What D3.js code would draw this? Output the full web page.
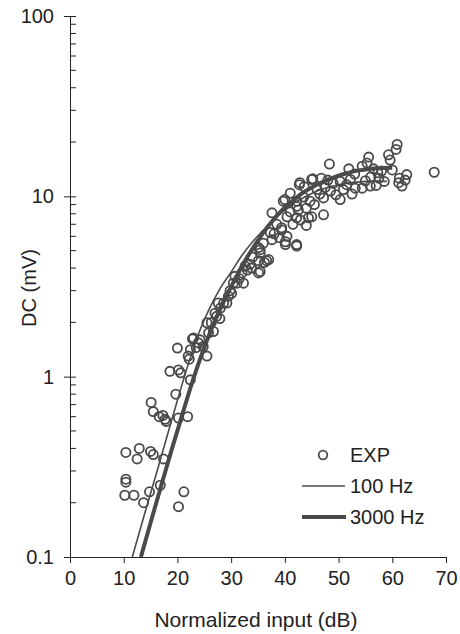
<!DOCTYPE html>
<html><head><meta charset="utf-8">
<script src="https://cdn.jsdelivr.net/npm/d3@7"></script>
<style>body{margin:0;background:#fff}svg{display:block}text{font-family:"Liberation Sans",Arial,sans-serif;fill:#222}</style>
</head><body><svg id="c" width="460" height="634"></svg>
<script>
const xTicks=[0,10,20,30,40,50,60,70];
const yTicks=[0.1,1,10,100];
const yTickLabels=["0.1","1","10","100"];
const expX=[10.4,12.9,12.5,15.0,15.5,17.4,10.4,10.4,10.2,11.9,13.7,14.8,16.8,21.2,20.2,
15.1,15.5,16.6,17.3,17.7,17.9,20.2,21.9,19.7,18.6,20.2,20.6,22.4,20.0,22.0,22.2,22.8,23.9,24.8,25.5,25.8,
22.4,23.0,25.5,26.7,27.3,27.0,27.6,28.6,29.2,30.1,30.4,30.7,31.1,32.0,32.3,32.6,33.5,35.1,36.6,37.0,35.4,35.1,35.4,35.1,35.4,
37.6,37.3,39.4,39.4,40.4,40.1,40.1,42.2,42.2,37.6,40.4,42.2,42.5,42.9,44.4,45.0,47.2,39.7,40.0,42.2,42.2,44.7,
42.8,45.0,42.7,45.2,46.0,47.2,48.5,50.3,50.9,50.3,52.2,53.1,54.4,55.9,51.9,54.4,55.3,55.6,48.3,57.3,57.5,59.6,59.3,60.7,60.9,61.2,61.8,62.4,62.7,67.8,
28.0,29.5,31.5,33.0,34.0,36.0,38.0,38.5,41.0,43.5,44.0,46.5,47.5,49.0,49.5,51.5,53.0,56.5,58.0,58.5,56.0,24.2,23.5,26.3,27.9,29.8,33.8,36.2,41.5,45.5,48.0,52.5,57.0,60.0,61.3,55.0,39.0,41.0,43.6,46.8,44.0];
const expY=[0.38,0.40,0.35,0.385,0.37,0.35,0.27,0.26,0.22,0.22,0.20,0.23,0.25,0.23,0.19,
0.72,0.64,0.60,0.61,0.58,0.565,0.59,0.60,0.80,1.07,1.09,1.05,0.96,1.44,1.30,1.25,1.62,1.54,1.47,1.99,1.75,
1.41,1.64,1.30,1.78,2.16,2.25,2.56,2.56,2.56,2.9,3.3,3.6,3.3,3.76,3.3,4.1,4.2,4.4,4.4,4.46,3.83,3.76,4.85,5.2,5.06,
5.75,6.3,6.5,6.7,6.0,5.6,5.4,5.4,5.3,8.1,7.7,7.6,8.4,7.4,7.6,7.7,7.9,9.4,9.6,8.8,9.4,9.4,
11.9,12.4,11.6,12.5,10.9,9.8,10.7,9.6,10.9,12.1,12.4,11.1,11.1,11.4,14.2,14.7,15.3,16.5,15.1,13.5,12.6,15.9,17.0,18.2,19.4,11.9,11.4,12.3,13.2,13.6,
2.4,2.8,3.5,3.9,4.6,5.5,6.2,7.0,8.2,9.9,8.6,10.3,11.2,11.8,10.2,11.6,13.3,14.2,13.8,12.1,12.8,1.6,1.45,2.0,2.1,3.0,4.0,4.3,7.0,9.0,12.3,10.3,11.5,14.0,12.6,12.2,5.9,10.4,11.3,12.6,6.9];
const hz100X=[11.6,14,16,18,20,22,24,26,28,30,32,34,36,38,40,42,44,46,48,50,53,56,59];
const hz100Y=[0.1,0.178,0.285,0.46,0.74,1.17,1.75,2.4,3.1,3.8,4.7,5.6,6.5,7.5,8.4,9.3,10.0,10.7,11.2,11.6,11.95,12.1,12.1];
const hz3000X=[13.2,15,17,19,21,23,25,27,29,31,33,35,37,39,41,43,45,47,49,51,53,55,57,60];
const hz3000Y=[0.1,0.155,0.25,0.40,0.63,0.98,1.45,2.05,2.75,3.6,4.6,5.7,6.9,8.1,9.2,10.3,11.2,12.0,12.7,13.3,13.8,14.1,14.3,14.4];
const seriesNames=["EXP","100 Hz","3000 Hz"];

const svg=d3.select("#c");
const x=d3.scaleLinear().domain([0,70]).range([70,446]);
const y=d3.scaleLog().domain([0.1,100]).range([557,16]);
const ink="#4a4a4a";

// axes
const yAxis=d3.axisLeft(y).tickValues(yTicks).tickFormat((d,i)=>yTickLabels[i]).tickSize(6).tickSizeOuter(0);
const gy=svg.append("g").attr("transform","translate(70,0)").call(yAxis);
gy.selectAll(".tick line").attr("x2",-6).attr("x1",6);
const minors=[];
[0.1,1,10].forEach(b=>{for(let k=2;k<=9;k++)minors.push(b*k);});
gy.selectAll(".minor").data(minors).join("line").attr("class","minor")
 .attr("x1",0).attr("x2",6).attr("y1",d=>y(d)).attr("y2",d=>y(d)).attr("stroke","#222");
gy.selectAll(".tick text").attr("x",-16).style("font-size","20px").style("font-family","Liberation Sans, Arial, sans-serif").attr("fill","#222");
gy.select(".domain").attr("stroke","#222");
gy.selectAll(".tick line").attr("stroke","#222");

const xAxis=d3.axisBottom(x).tickValues(xTicks).tickSize(6).tickSizeOuter(0);
const gx=svg.append("g").attr("transform","translate(0,557)").call(xAxis);
gx.selectAll(".tick text").attr("y",14).style("font-size","20px").style("font-family","Liberation Sans, Arial, sans-serif").attr("fill","#222");
gx.select(".domain").attr("stroke","#222");
gx.selectAll(".tick line").attr("stroke","#222");

// curves
const line=d3.line().x(d=>x(d[0])).y(d=>y(d[1])).curve(d3.curveMonotoneX);
svg.append("path").datum(hz100X.map((v,i)=>[v,hz100Y[i]])).attr("d",line)
 .attr("fill","none").attr("stroke",ink).attr("stroke-width",1.6);
svg.append("path").datum(hz3000X.map((v,i)=>[v,hz3000Y[i]])).attr("d",line)
 .attr("fill","none").attr("stroke",ink).attr("stroke-width",4);

// points
svg.append("g").selectAll("circle").data(expX.map((v,i)=>[v,expY[i]])).join("circle")
 .attr("cx",d=>x(d[0])).attr("cy",d=>y(d[1])).attr("r",4.6)
 .attr("fill","none").attr("stroke",ink).attr("stroke-width",1.8);

// axis titles
svg.append("text").attr("x",256).attr("y",627).attr("text-anchor","middle").style("font-size","21px").text("Normalized input (dB)");
svg.append("text").attr("transform","translate(36,288) rotate(-90)").attr("text-anchor","middle").style("font-size","20px").text("DC (mV)");

// legend
const lg=svg.append("g");
lg.append("circle").attr("cx",323).attr("cy",455).attr("r",4.3).attr("fill","none").attr("stroke",ink).attr("stroke-width",1.8);
lg.append("line").attr("x1",302).attr("x2",345).attr("y1",486).attr("y2",486).attr("stroke",ink).attr("stroke-width",1.6);
lg.append("line").attr("x1",302).attr("x2",346).attr("y1",517).attr("y2",517).attr("stroke",ink).attr("stroke-width",4);
[[seriesNames[0],462],[seriesNames[1],493],[seriesNames[2],524]].forEach(([t,yy])=>{
 lg.append("text").attr("x",350).attr("y",yy).style("font-size","20px").text(t);
});
</script></body></html>
